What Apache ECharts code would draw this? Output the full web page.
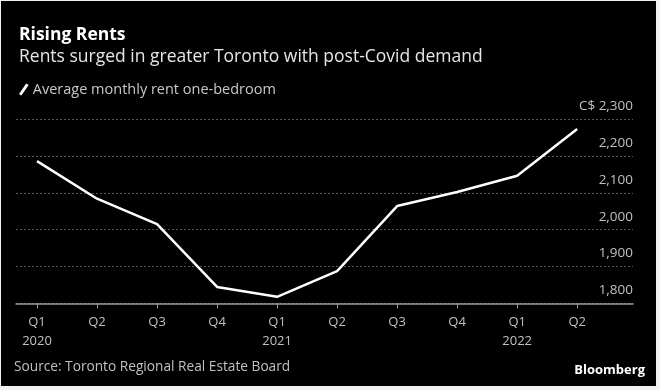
<!DOCTYPE html>
<html>
<head>
<meta charset="utf-8">
<script src="https://cdn.jsdelivr.net/npm/echarts@6/dist/echarts.min.js"></script>
<style>
html,body{margin:0;padding:0;background:#f2f2f2;width:660px;height:390px;overflow:hidden;}
#chart{position:absolute;left:1px;top:1px;width:655px;height:385px;}
</style>
</head>
<body>
<div id="chart"></div>
<script>
const quarters = ['Q1','Q2','Q3','Q4','Q1','Q2','Q3','Q4','Q1','Q2'];
const years = ['2020','','','','2021','','','','2022',''];
const rents = [2186, 2084, 2015, 1845, 1818, 1888, 2064, 2102, 2146, 2273];
const yMin = 1800, yMax = 2300, yStep = 100;
const seriesName = 'Average monthly rent one-bedroom';

const FONT = '"Open Sans", "DejaVu Sans", sans-serif';
const chart = echarts.init(document.getElementById('chart'), null, {renderer:'canvas'});
const idx = quarters.map((q,i)=>i);

chart.setOption({
  backgroundColor: '#000',
  animation: false,
  textStyle: {fontFamily: FONT},
  title: {
    left: 13, top: 20,
    text: 'Rising Rents',
    subtext: 'Rents surged in greater Toronto with post-Covid demand',
    itemGap: 4,
    textStyle: {color:'#fff', fontSize:17.5, fontWeight:'bold', fontFamily: FONT},
    subtextStyle: {color:'#e6e6e6', fontSize:17.5, fontFamily: FONT}
  },
  legend: {
    left: 13, top: 76,
    itemWidth: 10, itemHeight: 12, itemGap: 6,
    textStyle: {color:'#c8c8c8', fontSize:14.5, fontFamily: FONT, padding:[0,0,0,-1]},
    data: [{name: seriesName, icon: 'path://M0,11 L7.5,0 L10,1.5 L2.5,12.5 Z', itemStyle:{color:'#fff'}}]
  },
  grid: {left: 15, right: 23, top: 118, bottom: 82.5},
  xAxis: {
    type: 'value',
    min: -0.35, max: 9.93,
    splitLine: {show:false},
    axisLine: {show:true, lineStyle:{color:'#9a9a9a', width:1.5}},
    axisTick: {show:true, customValues: idx, length:5, lineStyle:{color:'#9a9a9a', width:1}},
    axisLabel: {
      customValues: idx,
      color:'#c0c0c0', fontSize:13, fontFamily: FONT, lineHeight:19, margin:9,
      formatter: v => { const i = Math.round(v); return years[i] ? quarters[i] + '\n' + years[i] : quarters[i]; }
    }
  },
  yAxis: {
    type: 'value', position: 'right',
    min: yMin, max: yMax, interval: yStep,
    axisLine: {show:false}, axisTick: {show:false},
    splitLine: {show:true, lineStyle:{color:'#555', type:[2,2], width:1}},
    axisLabel: {
      inside: true, margin: 0, align:'right', verticalAlign:'bottom',
      padding:[0,0,6,0],
      color:'#c0c0c0', fontSize:13.5, fontFamily: FONT,
      showMinLabel: true, showMaxLabel: true,
      formatter: v => (v === yMax ? 'C$ ' : '') + v.toLocaleString('en-US')
    }
  },
  series: [{
    name: seriesName,
    type: 'line',
    data: rents.map((v,i)=>[i,v]),
    symbol: 'none',
    lineStyle: {color:'#fff', width:2.5},
    itemStyle: {color:'#fff'}
  }],
  graphic: [
    {type:'text', left:13, top:359, style:{text:'Source: Toronto Regional Real Estate Board', fill:'#c0c0c0', font:'13.7px ' + FONT}},
    {type:'text', right:11, top:363, style:{text:'Bloomberg', fill:'#ffffff', font:'bold 13px ' + FONT}}
  ]
});
</script>
</body>
</html>
